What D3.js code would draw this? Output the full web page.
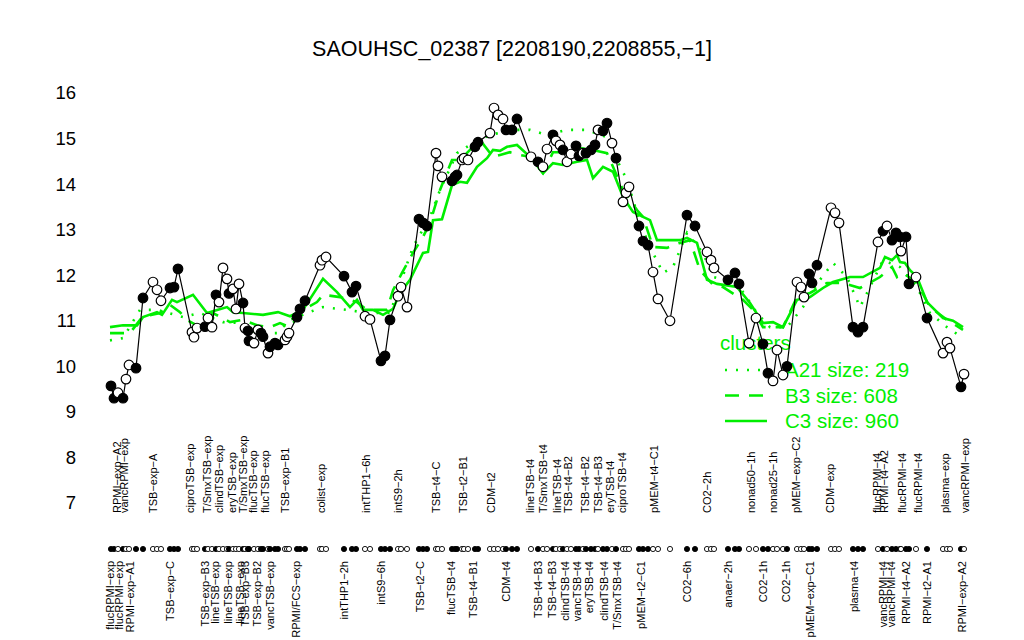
<!DOCTYPE html>
<html><head><meta charset="utf-8">
<script src="https://cdn.jsdelivr.net/npm/d3@7"></script>
<style>body{margin:0;background:#fff}svg{display:block}text{font-family:"Liberation Sans",Arial,Helvetica,sans-serif}</style>
</head><body><svg id="c" width="1024" height="640"></svg>
<script>
const title = "SAOUHSC_02387 [2208190,2208855,\u22121]";
const yTicks = [7,8,9,10,11,12,13,14,15,16];
// sample positions along the condition axis
const pos = [111,114,118,123,126,129,136,143,153,157,161,170,174,178,192,194,197,205,208,212,216,219,223,227,229,233,236,239,243,245,248,249,254,258,261,263,268,270,275,278,285,287,289,297,300,305,320,322,326,344,352,356,365,370,381,385,390,398,401,407,419,423,427,436,438,442,452,455,457,462,464,468,475,478,490,494,498,503,506,512,517,531,538,543,547,553,556,560,563,567,571,576,579,583,586,591,595,598,603,607,612,616,623,626,629,639,643,648,653,658,670,687,695,707,711,714,728,735,739,749,756,763,768,773,777,783,787,797,801,804,809,812,817,831,835,839,853,858,863,878,883,887,892,896,900,901,906,909,916,927,943,947,950,961,964];
const expr = [9.57,9.30,9.42,9.30,9.72,10.03,9.96,11.50,11.85,11.68,11.44,11.72,11.74,12.14,10.75,10.64,10.84,10.87,11.06,10.86,11.57,11.41,12.16,11.92,11.60,11.70,11.26,11.81,11.39,10.84,10.78,10.56,10.51,10.80,10.73,10.65,10.29,10.43,10.51,10.47,10.58,10.65,10.73,11.08,11.26,11.44,12.22,12.33,12.40,11.98,11.63,11.76,11.10,11.03,10.12,10.23,11.02,11.54,11.74,11.30,13.23,13.15,13.08,14.68,14.40,14.16,14.07,14.16,14.20,14.53,14.57,14.53,14.82,14.92,15.12,15.67,15.52,15.43,15.19,15.19,15.43,14.60,14.49,14.38,14.77,15.08,14.95,14.86,14.75,14.49,14.66,14.84,14.62,14.68,14.68,14.75,14.86,15.19,15.17,15.34,14.90,14.57,13.61,13.81,13.94,13.08,12.75,12.66,12.07,11.48,11.00,13.32,13.08,12.51,12.33,12.16,11.90,12.05,11.81,10.51,11.06,10.49,9.85,9.68,10.36,9.81,10.00,11.85,11.74,11.52,12.03,11.83,12.22,13.48,13.37,13.15,10.86,10.75,10.86,12.73,12.97,13.08,12.77,12.93,12.84,12.53,12.84,11.81,11.96,11.06,10.29,10.53,10.40,9.55,9.83];
const filled = [1,1,0,1,0,0,1,1,0,0,0,1,1,1,0,0,0,1,0,0,1,0,0,0,1,0,0,0,1,0,1,1,0,0,1,1,0,1,1,1,0,0,0,1,1,1,0,0,0,1,1,1,0,0,1,1,1,0,0,0,1,1,1,0,0,0,1,1,1,0,0,0,1,1,0,0,0,0,1,1,1,0,1,0,0,1,0,0,1,0,0,1,1,0,1,1,1,0,1,1,0,1,0,0,0,1,1,1,0,0,0,1,1,0,0,0,1,1,1,0,0,1,1,0,0,0,1,0,0,0,1,1,1,0,0,0,1,1,1,0,1,0,1,1,1,0,1,1,0,1,0,0,0,1,0];
// cluster mean profiles (position, value)
const a21Pos = [110,123,140,157,183,200,223,240,257,277,290,307,323,347,367,390,413,430,440,457,473,490,513,530,547,567,587,607,617,627,640,650,663,673,687,703,713,737,757,770,787,803,820,833,847,860,870,883,900,917,930,947,963];
const a21Val = [10.57,10.62,11.24,11.24,11.08,11.17,10.97,10.95,10.73,10.73,11.02,11.17,11.30,11.24,11.17,11.17,12.62,13.28,13.87,14.68,14.90,15.08,15.19,15.19,15.08,15.19,15.19,15.03,14.53,14.09,13.15,12.62,12.05,12.18,12.93,12.49,11.96,11.83,11.17,10.86,10.86,11.30,11.90,12.27,11.96,11.30,11.74,12.33,12.18,11.74,11.17,10.86,10.62];
const b3Pos = [110,130,142,160,170,180,187,200,213,230,243,257,270,280,290,303,317,323,340,357,367,387,393,402,413,423,430,440,452,460,470,480,493,500,510,520,530,543,553,567,580,593,607,613,623,637,643,653,667,680,690,700,713,723,743,753,763,783,797,810,827,843,860,880,892,897,903,917,930,947,963];
const b3Val = [10.73,10.73,11.08,11.17,11.35,11.19,11.02,10.86,11.17,10.97,11.02,10.90,10.86,10.95,10.86,11.24,11.41,11.57,11.52,11.41,11.24,11.24,11.67,12.05,12.49,12.84,13.15,13.87,14.53,14.53,14.75,14.97,14.60,14.64,14.70,14.64,14.60,14.24,14.70,14.70,14.79,14.75,14.68,14.38,13.87,13.43,13.28,12.62,12.60,12.71,12.77,12.11,11.79,11.74,11.46,11.24,10.86,10.86,11.52,11.61,11.83,11.83,11.72,11.96,12.18,11.96,12.05,11.83,11.30,11.02,10.80];
const c3Pos = [110,123,137,143,157,162,172,177,193,207,218,227,233,243,263,278,290,303,323,337,350,357,363,373,383,393,400,410,423,428,433,442,452,460,467,477,487,493,500,507,517,530,543,553,563,577,587,593,603,613,623,633,643,650,657,680,687,697,707,717,737,750,763,773,783,797,810,823,833,850,863,880,885,892,897,900,905,910,917,927,943,953,963];
const c3Val = [10.86,10.90,10.90,11.08,11.19,11.13,11.46,11.41,11.57,11.17,11.24,11.30,11.19,11.17,11.13,11.19,11.10,11.24,11.92,11.63,11.30,11.46,11.24,11.24,11.13,11.26,11.61,11.90,12.49,12.51,13.21,13.23,13.98,14.05,14.03,14.38,14.57,14.75,14.73,14.82,14.86,14.60,14.24,14.46,14.42,14.49,14.53,14.13,14.38,14.27,13.72,13.39,13.28,13.21,12.77,12.77,12.82,12.71,11.90,11.81,11.74,11.39,10.95,10.97,10.86,11.46,11.52,11.72,11.85,11.96,11.96,12.16,12.40,12.33,12.44,12.29,12.27,12.11,11.96,11.41,11.06,11.00,10.86];
const legendTitle = "clusters";
const legendLabels = ["A21 size: 219","B3 size: 608","C3 size: 960"];
const legendDash = ["2,9","14,10",null];
// condition labels: [name, position, side]  side 1 = above sample row, 0 = below
const labelNames = ["flucRPMI\u2212exp","RPMI\u2212exp\u2212A2","flucRPMI\u2212exp","vancRPMI\u2212exp","RPMI\u2212exp\u2212A1","TSB\u2212exp\u2212A","TSB\u2212exp\u2212C","ciproTSB\u2212exp","TSB\u2212exp\u2212B3","T/SmxTSB\u2212exp","lineTSB\u2212exp","clindTSB\u2212exp","lineTSB\u2212exp","eryTSB\u2212exp","lineTSB\u2212exp","T/SmxTSB\u2212exp","TSB\u2212exp\u2212B3","flucTSB\u2212exp","TSB\u2212exp\u2212B2","flucTSB\u2212exp","vancTSB\u2212exp","TSB\u2212exp\u2212B1","RPMI/FCS\u2212exp","colist\u2212exp","intTHP1\u22122h","intTHP1\u22126h","intS9\u22126h","intS9\u22122h","TSB\u2212t2\u2212C","TSB\u2212t4\u2212C","flucTSB\u2212t4","TSB\u2212t2\u2212B1","TSB\u2212t4\u2212B1","CDM\u2212t2","CDM\u2212t4","lineTSB\u2212t4","TSB\u2212t4\u2212B3","T/SmxTSB\u2212t4","TSB\u2212t4\u2212B3","lineTSB\u2212t4","clindTSB\u2212t4","TSB\u2212t4\u2212B2","vancTSB\u2212t4","TSB\u2212t4\u2212B2","eryTSB\u2212t4","TSB\u2212t4\u2212B3","clindTSB\u2212t4","eryTSB\u2212t4","T/SmxTSB\u2212t4","ciproTSB\u2212t4","pMEM\u2212t2\u2212C1","pMEM\u2212t4\u2212C1","CO2\u22126h","CO2\u22122h","anaer\u22122h","nonad50\u22121h","CO2\u22121h","nonad25\u22121h","CO2\u22121h","pMEM\u2212exp\u2212C2","pMEM\u2212exp\u2212C1","CDM\u2212exp","plasma\u2212t4","flucRPMI\u2212t4","vancRPMI\u2212t4","RPMI\u2212t4\u2212A2","vancRPMI\u2212t4","flucRPMI\u2212t4","RPMI\u2212t4\u2212A2","flucRPMI\u2212t4","RPMI\u2212t2\u2212A1","plasma\u2212exp","RPMI\u2212exp\u2212A2","vancRPMI\u2212exp"];
const labelPos = [110,117,119,124,130,153,170,190,205,207,215,219,228,232,240,243,245,253,257,265,270,285,296,321,344,366,381,398,420,436,451,463,473,491,506,530,538,543,552,557,565,568,577,585,589,598,604,610,617,622,641,654,687,707,728,751,763,773,786,796,810,830,854,877,883,884,891,902,906,918,927,945,962,965];
const labelSide = [0,1,0,1,0,1,0,1,0,1,0,1,0,1,0,1,0,1,0,1,0,1,0,1,0,1,0,1,0,1,0,1,0,1,0,1,0,1,0,1,0,1,0,1,0,1,0,1,0,1,0,1,0,1,0,1,0,1,0,1,0,1,0,1,0,1,0,1,0,1,0,1,0,1];

const svg = d3.select("#c");
const x = d3.scaleLinear().domain([110, 964]).range([110, 964]);
const y = d3.scaleLinear().domain([7, 16]).range([503, 93]);
const green = "#00ee00";

svg.append("text").attr("x", 512).attr("y", 56).attr("text-anchor", "middle")
  .attr("font-size", 21.5).text(title);

// y axis
const yAxis = svg.append("g").attr("transform", "translate(80,0)")
  .call(d3.axisLeft(y).tickValues(yTicks).tickSize(0).tickPadding(4).tickFormat(d3.format("d")));
yAxis.select(".domain").remove();
yAxis.selectAll("text").attr("font-size", 18.5).attr("font-family", "Liberation Sans, Arial, sans-serif").attr("fill", "#000");

// cluster lines
const line = d3.line().x(d => x(d[0])).y(d => y(d[1]));
const clusters = [
  {p: a21Pos, v: a21Val, dash: legendDash[0]},
  {p: b3Pos, v: b3Val, dash: legendDash[1]},
  {p: c3Pos, v: c3Val, dash: legendDash[2]}
];
clusters.forEach(c => {
  svg.append("path").datum(d3.zip(c.p, c.v)).attr("d", line)
    .attr("fill", "none").attr("stroke", green).attr("stroke-width", 2.6)
    .attr("stroke-dasharray", c.dash);
});

// legend (drawn beneath the sample points, as in the original)
const lg = svg.append("g").attr("fill", green);
lg.append("text").attr("x", 720).attr("y", 350).attr("font-size", 20.5).attr("fill", green).text(legendTitle);
legendLabels.forEach((t, i) => {
  const ly = 370 + i * 25.5;
  lg.append("line").attr("x1", 725).attr("x2", 767).attr("y1", ly).attr("y2", ly)
    .attr("stroke", green).attr("stroke-width", 2.6).attr("stroke-dasharray", legendDash[i]);
  lg.append("text").attr("x", 785).attr("y", ly + 7).attr("font-size", 20.5).attr("fill", green).text(t);
});

// expression line
const pts = d3.zip(pos, expr, filled);
svg.append("path").datum(pts).attr("d", line).attr("fill", "none")
  .attr("stroke", "#000").attr("stroke-width", 1.2);
svg.append("g").selectAll("circle").data(pts).join("circle")
  .attr("cx", d => x(d[0])).attr("cy", d => y(d[1])).attr("r", 4.8)
  .attr("fill", d => d[2] ? "#000" : "#fff").attr("stroke", "#000").attr("stroke-width", 1.2);

// sample row
const rowY = 549;
svg.append("g").selectAll("circle").data(pts).join("circle")
  .attr("cx", d => x(d[0])).attr("cy", rowY).attr("r", 2.6)
  .attr("fill", d => d[2] ? "#000" : "#fff").attr("stroke", "#000").attr("stroke-width", 0.9);

// condition labels
const labs = d3.zip(labelNames, labelPos, labelSide);
svg.append("g").selectAll("text").data(labs).join("text")
  .attr("transform", d => `translate(${x(d[1]) + 4},${d[2] ? 513 : 561}) rotate(-90)`)
  .attr("text-anchor", d => d[2] ? "start" : "end")
  .attr("font-size", 11).text(d => d[0]);
</script></body></html>
